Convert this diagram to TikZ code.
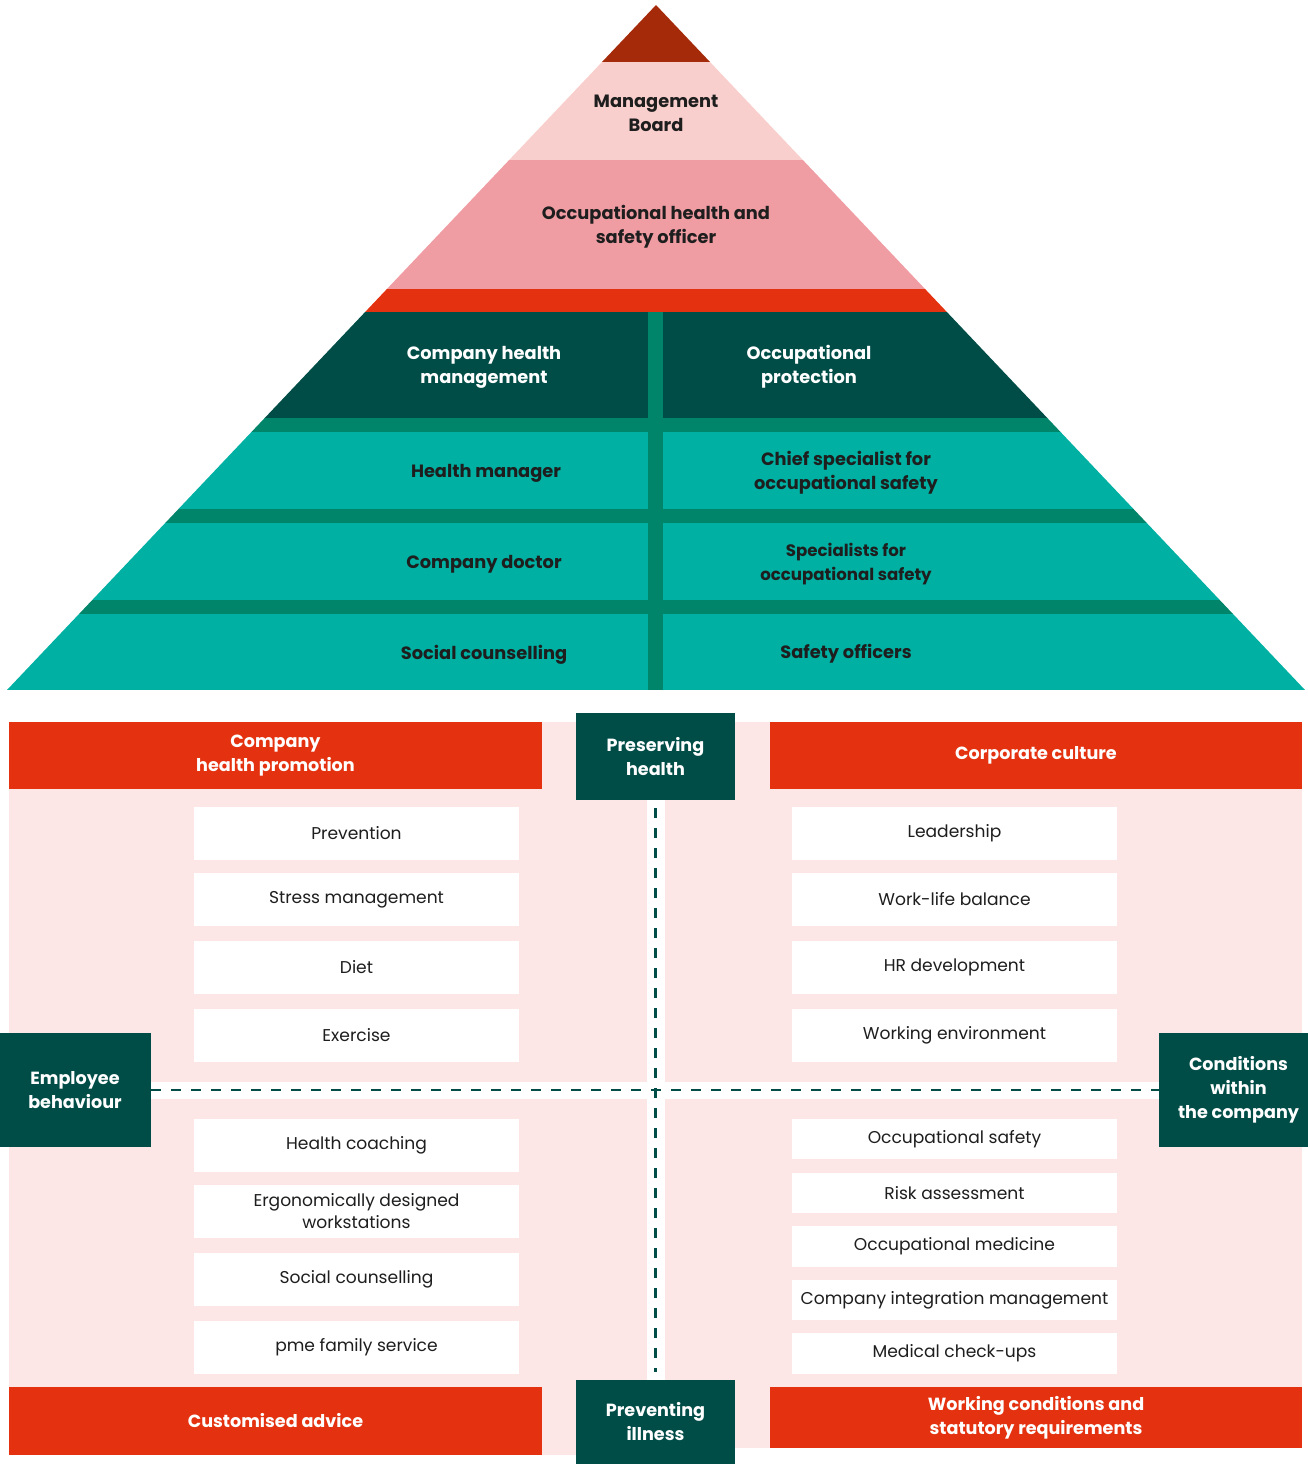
\documentclass[tikz,border=0pt]{standalone}
\usepackage{fontspec}
\setmainfont{Poppins}
\definecolor{apex}{HTML}{A52A0A}
\definecolor{lpink}{HTML}{F8CFCC}
\definecolor{mpink}{HTML}{F09CA3}
\definecolor{pred}{HTML}{E43210}
\definecolor{dteal}{HTML}{004D48}
\definecolor{gband}{HTML}{00856A}
\definecolor{tealc}{HTML}{00B0A2}
\definecolor{bgpink}{HTML}{FCE7E6}
\definecolor{txt}{HTML}{1E1E1E}
\tikzset{
  ptext/.style={align=center,text=txt,font=\fontsize{17.8}{24}\selectfont\bfseries,inner sep=0pt},
  pwtext/.style={ptext,text=white},
  redbox/.style={fill=pred,text=white,align=center,inner sep=0pt,font=\fontsize{17.6}{24}\selectfont\bfseries},
  tealbox/.style={fill=dteal,text=white,align=center,inner sep=0pt,font=\fontsize{17.6}{24}\selectfont\bfseries,minimum width=159pt},
  itembox/.style={fill=white,text=txt,align=center,inner sep=0pt,minimum width=325pt,font=\fontsize{17.1}{22}\selectfont},
  dashline/.style={draw=dteal,line width=2.3pt,dash pattern=on 10pt off 10pt}
}
\begin{document}
\begin{tikzpicture}[x=1pt,y=-1pt]
\useasboundingbox (0,0) rectangle (1308,1464);
% ---------- pyramid ----------
\begin{scope}
  \clip (656,5) -- (7,690) -- (1305,690) -- cycle;
  \fill[apex] (0,0) rectangle (1308,62);
  \fill[lpink] (0,62) rectangle (1308,160);
  \fill[mpink] (0,160) rectangle (1308,289);
  \fill[pred] (0,289) rectangle (1308,312);
  \fill[dteal] (0,312) rectangle (1308,418);
  \fill[gband] (0,418) rectangle (1308,432);
  \fill[tealc] (0,432) rectangle (1308,509);
  \fill[gband] (0,509) rectangle (1308,523);
  \fill[tealc] (0,523) rectangle (1308,600);
  \fill[gband] (0,600) rectangle (1308,614);
  \fill[tealc] (0,614) rectangle (1308,690);
  \fill[gband] (648,312) rectangle (663,690);
\end{scope}
\node[ptext] (mb) at (656,113) {Management\\Board};
\node[ptext] (ohs) at (656,227) {Occupational health and\\safety officer};
\node[pwtext] (chm) at (484,367) {Company health\\management};
\node[pwtext] (op) at (809,367) {Occupational\\protection};
\node[ptext] (hm) at (486,473) {Health manager};
\node[ptext] (cs) at (846,473) {Chief specialist for\\occupational safety};
\node[ptext] (cd) at (484,564) {Company doctor};
\node[ptext,font=\fontsize{16.6}{24}\selectfont\bfseries] (sf) at (846,564) {Specialists for\\occupational safety};
\node[ptext] (sc) at (484,655) {Social counselling};
\node[ptext] (so) at (846,654) {Safety officers};
% ---------- lower section backgrounds ----------
\fill[bgpink] (9,722) rectangle (647,1082);
\fill[bgpink] (665,722) rectangle (1302,1082);
\fill[bgpink] (9,1099) rectangle (647,1455);
\fill[bgpink] (665,1099) rectangle (1302,1448);
% headers
\node[redbox,minimum width=533pt,minimum height=67pt] (hp) at (275.5,755.5) {Company\\health promotion};
\node[redbox,minimum width=532pt,minimum height=67pt] (cc) at (1036,755.5) {Corporate culture};
\node[redbox,minimum width=533pt,minimum height=68pt] (ca) at (275.5,1421) {Customised advice};
\node[redbox,minimum width=532pt,minimum height=61pt] (wc) at (1036,1417.5) {Working conditions and\\statutory requirements};
% item boxes left
\node[itembox,minimum height=53pt] (l1) at (356.5,833.5) {Prevention};
\node[itembox,minimum height=53pt] (l2) at (356.5,899.5) {Stress management};
\node[itembox,minimum height=53pt] (l3) at (356.5,967.5) {Diet};
\node[itembox,minimum height=53pt] (l4) at (356.5,1035.5) {Exercise};
\node[itembox,minimum height=53pt] (l5) at (356.5,1145.5) {Health coaching};
\node[itembox,minimum height=53pt] (l6) at (356.5,1211.5) {Ergonomically designed\\workstations};
\node[itembox,minimum height=53pt] (l7) at (356.5,1279.5) {Social counselling};
\node[itembox,minimum height=53pt] (l8) at (356.5,1347.5) {pme family service};
% item boxes right
\node[itembox,minimum height=53pt] (r1) at (954.5,833.5) {Leadership};
\node[itembox,minimum height=53pt] (r2) at (954.5,899.5) {Work-life balance};
\node[itembox,minimum height=53pt] (r3) at (954.5,967.5) {HR development};
\node[itembox,minimum height=53pt] (r4) at (954.5,1035.5) {Working environment};
\node[itembox,minimum height=40.5pt] (r5) at (954.5,1139) {Occupational safety};
\node[itembox,minimum height=40.5pt] (r6) at (954.5,1193) {Risk assessment};
\node[itembox,minimum height=40.5pt] (r7) at (954.5,1246.5) {Occupational medicine};
\node[itembox,minimum height=40.5pt] (r8) at (954.5,1300) {Company integration management};
\node[itembox,minimum height=40.5pt] (r9) at (954.5,1353.5) {Medical check-ups};
% teal boxes
\node[tealbox,minimum height=87pt] (pres) at (655.5,756.5) {Preserving\\health};
\node[tealbox,minimum height=84pt] (prev) at (655.5,1422) {Preventing\\illness};
\node[tealbox,minimum width=152pt,minimum height=114pt] (emp) at (75,1090) {Employee\\behaviour};
\node[tealbox,minimum width=159pt,minimum height=114pt] (cond) at (1238.5,1090) {Conditions\\within\\the company};
% dashed connectors
\draw[dashline,shorten <=8pt,shorten >=8pt] (pres.south) -- (prev.north);
\draw[dashline] (emp.east) -- (cond.west);
\end{tikzpicture}
\end{document}
